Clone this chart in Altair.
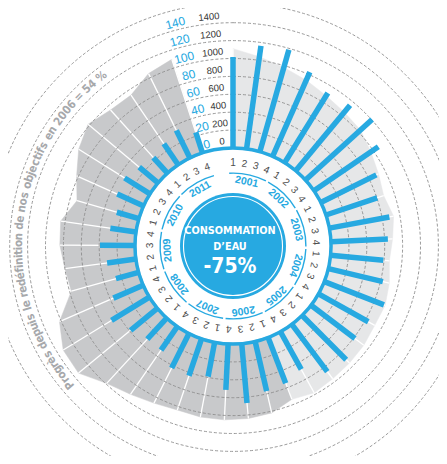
import math
import altair as alt
import pandas as pd

# ---------------- data ----------------
years = list(range(2001, 2012))
quarter_labels = ["1", "2", "3", "4"]
consumption = [1017, 1162, 1184, 1028, 916, 950, 1006, 872,
               693, 603, 682, 637, 592, 626, 715, 637,
               615, 698, 659, 480, 548, 570, 665, 514,
               391, 436, 430, 320, 320, 387, 497, 363,
               263, 324, 391, 290, 257, 322, 335, 274,
               235, 285, 344, 240]
progress = [111, 104, 98, 93, 88, 85, 83, 77,
            72, 68, 73, 69, 66, 70, 73, 72,
            74, 75, 76, 78, 74, 82, 84, 85,
            85, 84, 87, 92, 99, 114, 113, 102,
            78, 80, 84, 85, 72, 82, 94, 102,
            95, 94, 105, 110]
consumption_ticks = [0, 200, 400, 600, 800, 1000, 1200, 1400]
progress_ticks = [0, 20, 40, 60, 80, 100, 120, 140]
side_note = "Progrès depuis le redéfinition de nos objectifs en 2006 = 54 %"
center_lines = ["CONSOMMATION", "D’EAU", "-75%"]
split_index = 20  # 2006 Q1: start of the darker period

# ---------------- layout / style ----------------
W, H = 431, 448
CX, CY = 225, 238
STEP = 7.95          # degrees per quarter
R0 = 98.0            # radius of value 0
K = 17.9 / 200       # px per consumption unit
KP = 17.9 / 20       # px per progress point
BLUE = "#27a9e1"
LIGHT = "#e6e7e8"
DARK = "#c8c9cb"
GRID = "#8d8d8d"
FONT = "Liberation Sans"
NARROW = "DejaVu Sans Condensed"

SX = alt.Scale(domain=[-CX, W - CX], nice=False, zero=False)
SY = alt.Scale(domain=[-(H - CY), CY], nice=False, zero=False)


def X(f):
    return alt.X(f, type="quantitative", scale=SX, axis=None)


def Y(f):
    return alt.Y(f, type="quantitative", scale=SY, axis=None)


CXD = alt.X(datum=0, type="quantitative", scale=SX, axis=None)
CYD = alt.Y(datum=0, type="quantitative", scale=SY, axis=None)
TH = f"datum.idx * {STEP} * PI / 180"
FULL = 2 * math.pi

q = pd.DataFrame({
    "idx": list(range(len(consumption))),
    "value": consumption,
    "pct": progress,
    "ql": [quarter_labels[i % 4] for i in range(len(consumption))],
})

base_q = alt.Chart(q).transform_calculate(
    th=TH,
    rb=f"{R0} + datum.value * {K}",
    rg=f"{R0} + datum.pct * {KP}",
).transform_calculate(
    bx="datum.rb * sin(datum.th)", by="datum.rb * cos(datum.th)",
    b0x=f"{R0} * sin(datum.th)", b0y=f"{R0} * cos(datum.th)",
    gx="datum.rg * sin(datum.th)", gy="datum.rg * cos(datum.th)",
    qx="83 * sin(datum.th)", qy="83 * cos(datum.th)",
    qang=f"datum.idx * {STEP}",
)

poly_rows = []
for seg, rng in (("light", range(0, split_index + 1)), ("dark", range(split_index, len(progress)))):
    idxs = list(rng)
    poly_rows.append({"seg": seg, "ord": -1, "idx": idxs[0], "pct": 0, "c": 1})
    for o, i in enumerate(idxs):
        poly_rows.append({"seg": seg, "ord": o, "idx": i, "pct": progress[i], "c": 0})
    poly_rows.append({"seg": seg, "ord": 999, "idx": idxs[-1], "pct": 0, "c": 1})
poly = pd.DataFrame(poly_rows)


def poly_layer(seg, color):
    return alt.Chart(poly).transform_filter(f"datum.seg == '{seg}'").transform_calculate(
        th=TH, rr=f"datum.c == 1 ? 0 : {R0} + datum.pct * {KP}"
    ).transform_calculate(
        px="datum.rr * sin(datum.th)", py="datum.rr * cos(datum.th)"
    ).mark_line(fill=color, stroke=color, strokeWidth=0.5, interpolate="linear").encode(
        x=X("px"), y=Y("py"), order=alt.Order("ord:Q")
    )


light_poly = poly_layer("light", LIGHT)
dark_poly = poly_layer("dark", DARK)

white_spokes = base_q.mark_rule(color="white", strokeWidth=1.3).encode(
    x=X("gx"), y=Y("gy"), x2="b0x", y2="b0y"
)

grid = alt.Chart(pd.DataFrame({"v": consumption_ticks})).transform_calculate(
    rr=f"{R0} + datum.v * {K}"
).mark_arc(filled=False, fillOpacity=0, stroke=GRID, strokeWidth=0.9, strokeDash=[3, 2],
           theta=0, theta2=FULL).encode(
    x=CXD, y=CYD, radius=alt.Radius("rr:Q", scale=None, stack=None)
)

outer = alt.Chart(pd.DataFrame({"rr": [243]})).mark_arc(
    filled=False, fillOpacity=0, stroke=GRID, strokeWidth=0.9, strokeDash=[3, 2],
    theta=0, theta2=FULL).encode(x=CXD, y=CYD, radius=alt.Radius("rr:Q", scale=None, stack=None))

bars = base_q.mark_rule(color=BLUE, strokeWidth=5.5, strokeCap="butt").encode(
    x=X("bx"), y=Y("by"), x2="b0x", y2="b0y"
)

one = pd.DataFrame({"k": [0]})
inner_white = alt.Chart(one).mark_arc(color="white", radius=96.5, theta=0, theta2=FULL).encode(x=CXD, y=CYD)
ring = alt.Chart(one).mark_arc(color=BLUE, radius=99.8, radius2=96.3, theta=0, theta2=FULL).encode(x=CXD, y=CYD)

yr = pd.DataFrame({"y": list(range(len(years))), "label": [str(v) for v in years]})
year_arcs = alt.Chart(yr).transform_calculate(
    t1=f"(datum.y * 4 * {STEP} - 3) * PI / 180",
    t2=f"((datum.y * 4 + 3) * {STEP} + 3) * PI / 180",
).mark_arc(color=BLUE, radius=73.6, radius2=72.2).encode(
    x=CXD, y=CYD, theta=alt.Theta("t1:Q", scale=None, stack=None), theta2="t2:Q"
)
year_text = alt.Chart(yr).transform_calculate(
    a=f"(datum.y * 4 + 1.5) * {STEP}",
).transform_calculate(
    tx="65.5 * sin(datum.a * PI / 180)", ty="65.5 * cos(datum.a * PI / 180)"
).mark_text(font=FONT, fontSize=10.5, fontWeight="bold", color=BLUE, baseline="middle", align="center").encode(
    x=X("tx"), y=Y("ty"), text="label:N", angle=alt.Angle("a:Q", scale=None)
)
quarter_text = base_q.mark_text(font=FONT, fontSize=10, color="#4d4d4d", baseline="middle", align="center").encode(
    x=X("qx"), y=Y("qy"), text="ql:N", angle=alt.Angle("qang:Q", scale=None)
)

disc = alt.Chart(one).mark_arc(color=BLUE, radius=53, theta=0, theta2=FULL).encode(x=CXD, y=CYD)
disc_ring = alt.Chart(one).mark_arc(filled=False, fillOpacity=0, stroke="white", strokeWidth=1.1, radius=49.5,
                                    theta=0, theta2=FULL).encode(x=CXD, y=CYD)
ct = pd.DataFrame({"t": center_lines, "line": [0, 1, 2]})
center_small = alt.Chart(ct).transform_filter("datum.line < 2").transform_calculate(
    ty="datum.line == 0 ? 15 : -1"
).mark_text(font=NARROW, fontSize=10.8, fontWeight="bold", color="white", align="center", baseline="middle").encode(
    x=alt.X(datum=-3, type="quantitative", scale=SX, axis=None), y=Y("ty"), text="t:N"
)
center_big = alt.Chart(ct).transform_filter("datum.line == 2").mark_text(
    font=NARROW, fontSize=21, fontWeight="bold", color="white", align="center", baseline="middle"
).encode(x=alt.X(datum=-3, type="quantitative", scale=SX, axis=None),
         y=alt.Y(datum=-21, type="quantitative", scale=SY, axis=None), text="t:N")

ct_df = pd.DataFrame({"v": consumption_ticks, "label": [str(v) for v in consumption_ticks]})
black_ticks = alt.Chart(ct_df).transform_calculate(
    rr=f"{R0} + datum.v * {K} + 7", a="354"
).transform_calculate(
    tx="datum.rr * sin(datum.a * PI / 180)", ty="datum.rr * cos(datum.a * PI / 180)"
).mark_text(font=FONT, fontSize=9.5, color="#333333", align="center", baseline="middle").encode(
    x=X("tx"), y=Y("ty"), text="label:N", angle=alt.Angle("a:Q", scale=None)
)
pt_df = pd.DataFrame({"v": progress_ticks, "label": [str(v) for v in progress_ticks]})
blue_ticks = alt.Chart(pt_df).transform_calculate(
    rr=f"{R0} + datum.v * {KP} + 7", a="345.5"
).transform_calculate(
    tx="datum.rr * sin(datum.a * PI / 180)", ty="datum.rr * cos(datum.a * PI / 180)"
).mark_text(font=FONT, fontSize=12, color=BLUE, align="center", baseline="middle").encode(
    x=X("tx"), y=Y("ty"), text="label:N", angle=alt.Angle("a:Q", scale=None)
)


def cw(ch):
    if ch in "ijl.,'’":
        return 2.6
    if ch == " ":
        return 3.0
    if ch in "frt":
        return 3.6
    if ch in "m%":
        return 8.0
    if ch.isupper():
        return 7.0
    if ch.isdigit() or ch == "=":
        return 5.8
    return 5.6


ws = [cw(c) for c in side_note]
tot = sum(ws)
A0, A1 = 228.5, 323.5
cum, centers = 0.0, []
for w in ws:
    centers.append(A0 + (cum + w / 2) / tot * (A1 - A0))
    cum += w
sn = pd.DataFrame({"ch": list(side_note), "a": centers})
side_text = alt.Chart(sn).transform_calculate(
    tx="214 * sin(datum.a * PI / 180)", ty="214 * cos(datum.a * PI / 180)"
).mark_text(font=NARROW, fontSize=11.5, fontWeight="bold", color="#a6a8ab", align="center", baseline="middle").encode(
    x=X("tx"), y=Y("ty"), text="ch:N", angle=alt.Angle("a:Q", scale=None)
)

chart = alt.layer(
    light_poly, dark_poly, white_spokes, grid, outer, bars, inner_white, ring,
    year_arcs, year_text, quarter_text, disc, disc_ring, center_small, center_big,
    black_ticks, blue_ticks, side_text,
).properties(
    width=W, height=H, padding=0, autosize=alt.AutoSizeParams(type="none")
).configure_view(strokeWidth=0)

chart.save("out.html", embed_options={"renderer": "svg", "actions": False})
